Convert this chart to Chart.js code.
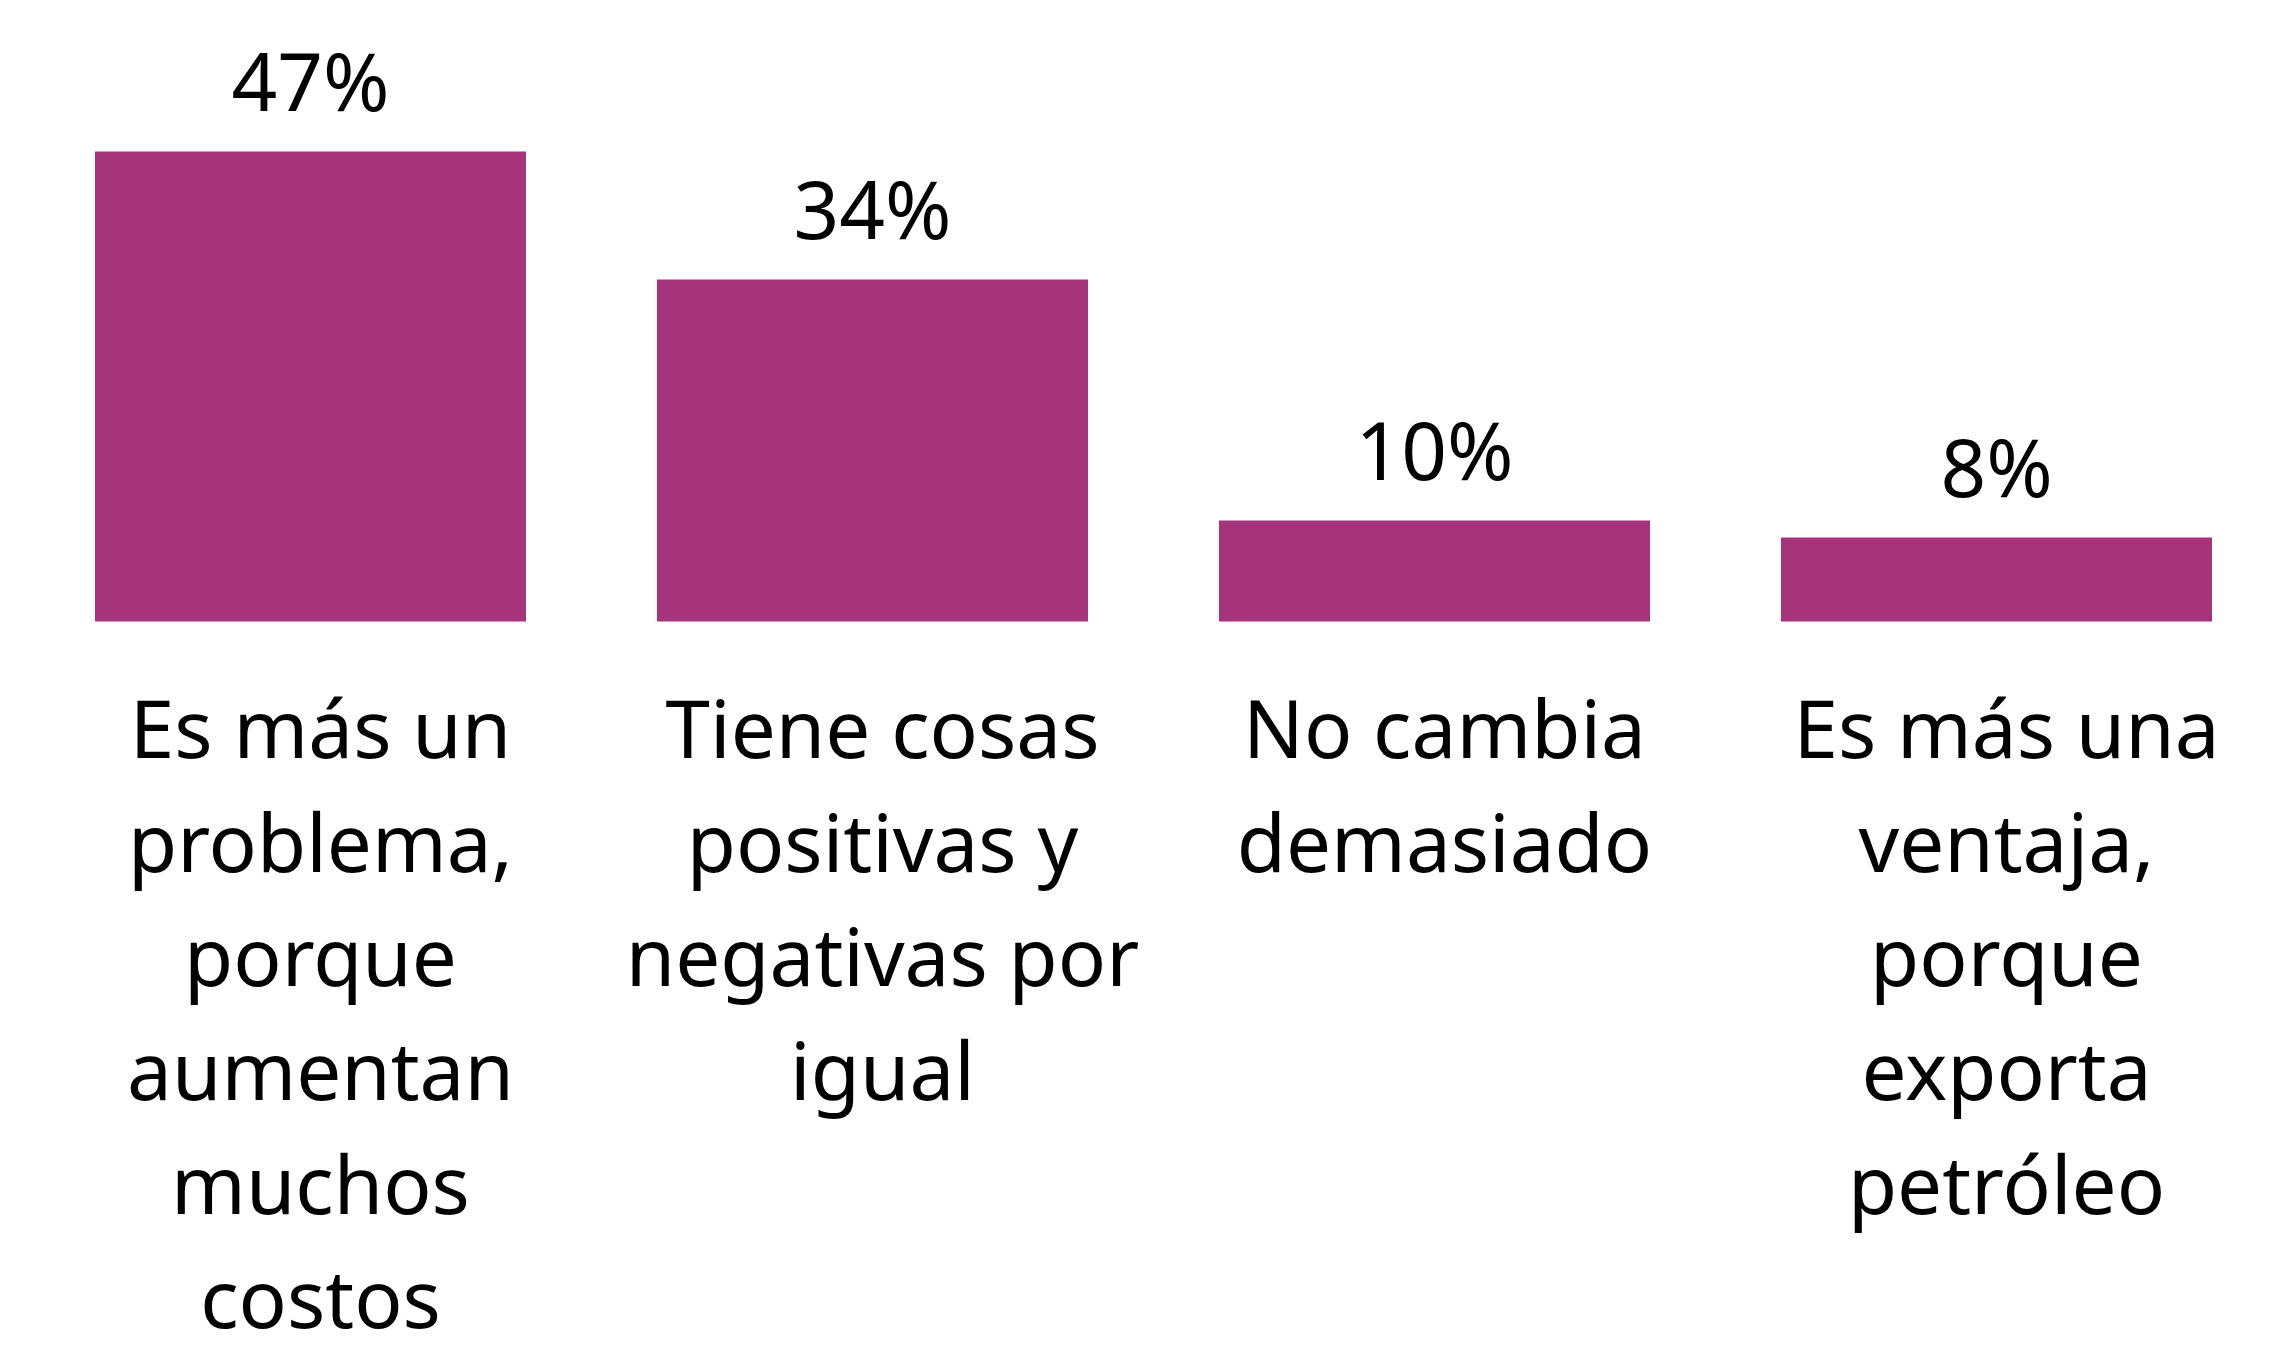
<!DOCTYPE html>
<html lang="es">
<head>
<meta charset="utf-8">
<title>Gráfico de barras</title>
<script src="https://cdn.jsdelivr.net/npm/chart.js@4.4.1/dist/chart.umd.min.js"></script>
<style>
    html, body { margin: 0; padding: 0; background: #ffffff; overflow: hidden; }
    #grafico { display: block; }
</style>
</head>
<body>
<canvas id="grafico" width="2270" height="1356"></canvas>
<script>
// ============================
// Datos del gráfico
// ============================
const categorias = [
    ["Es más un", "problema,", "porque", "aumentan", "muchos", "costos"],
    ["Tiene cosas", "positivas y", "negativas por", "igual"],
    ["No cambia", "demasiado"],
    ["Es más una", "ventaja,", "porque", "exporta", "petróleo"]
];
const valores = [47, 34.2, 10.1, 8.4];
const etiquetas = valores.map(v => Math.round(v) + "%");

const colorBarra = "#A6347A";
const fuente = "'Noto Sans', 'Open Sans', sans-serif";

// ============================
// Etiquetas de valor encima de cada barra
// ============================
const pluginEtiquetas = {
    id: "etiquetasValor",
    afterDatasetsDraw(chart) {
        const ctx = chart.ctx;
        const meta = chart.getDatasetMeta(0);
        ctx.save();
        ctx.font = "80px " + fuente;
        ctx.fillStyle = "#000000";
        ctx.textAlign = "center";
        ctx.textBaseline = "alphabetic";
        meta.data.forEach((barra, i) => {
            ctx.fillText(etiquetas[i], barra.x, barra.y - 41);
        });
        ctx.restore();
    }
};

// ============================
// Creación del gráfico
// ============================
const ctx = document.getElementById("grafico").getContext("2d");
new Chart(ctx, {
    type: "bar",
    data: {
        labels: categorias,
        datasets: [{
            data: valores,
            backgroundColor: colorBarra,
            borderWidth: 0,
            barPercentage: 0.767,
            categoryPercentage: 1,
            clip: false
        }]
    },
    options: {
        responsive: false,
        animation: false,
        layout: {
            padding: { top: 121.5, left: 310.5, right: 273.5, bottom: 0 }
        },
        plugins: {
            legend: { display: false },
            tooltip: { enabled: false }
        },
        scales: {
            x: {
                offset: false,
                grid: { display: false, drawTicks: false },
                border: { display: false },
                // el eje necesita más de la mitad del alto para las 6 líneas
                afterFit: (scale) => { scale.height = 734.5; },
                ticks: {
                    autoSkip: false,
                    maxRotation: 0,
                    minRotation: 0,
                    padding: 57,
                    labelOffset: 10,
                    color: "#000000",
                    font: { family: fuente, size: 80, lineHeight: 1.425 }
                }
            },
            y: {
                display: false,
                min: 0,
                max: 50
            }
        }
    },
    plugins: [pluginEtiquetas]
});
</script>
</body>
</html>
